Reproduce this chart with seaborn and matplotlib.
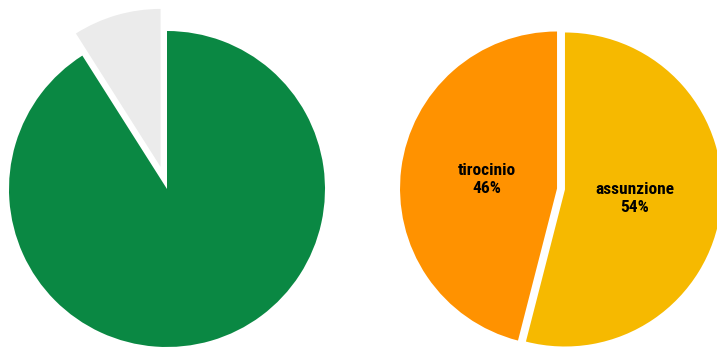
import matplotlib
matplotlib.use("Agg")
import matplotlib.pyplot as plt
import seaborn as sns

sns.set_theme(style="white")
plt.rcParams['font.family'] = ['Roboto Condensed', 'Liberation Sans', 'DejaVu Sans']

# dati
quota_valori = [91, 9]
quota_colori = ['#0a8843', '#ebebeb']

esito_etichette = ['assunzione', 'tirocinio']
esito_valori = [54, 46]
esito_colori = ['#f6b900', '#ff9200']

W, H = 717, 347
fig = plt.figure(figsize=(W / 100, H / 100), dpi=100)
ax = fig.add_axes([0, 0, 1, 1])

# torta sinistra (fetta grigia staccata)
ax.pie(quota_valori, colors=quota_colori, startangle=90, counterclock=False,
       center=(167, H - 189), radius=158, explode=[0, 23],
       wedgeprops=dict(linewidth=0))

# torta destra
labels = [f"{n}\n{v}%" for n, v in zip(esito_etichette, esito_valori)]
ax.pie(esito_valori, colors=esito_colori, labels=labels, startangle=90,
       counterclock=False, center=(561, H - 189), radius=157,
       explode=[4, 4], labeldistance=0.45,
       wedgeprops=dict(linewidth=0),
       textprops=dict(fontsize=12.5, fontweight='heavy', color='black',
                      ha='center', va='center', linespacing=1.25))

ax.set_xlim(0, W)
ax.set_ylim(0, H)
ax.set_aspect('equal')
ax.axis('off')

fig.savefig("out.png", dpi=100)
